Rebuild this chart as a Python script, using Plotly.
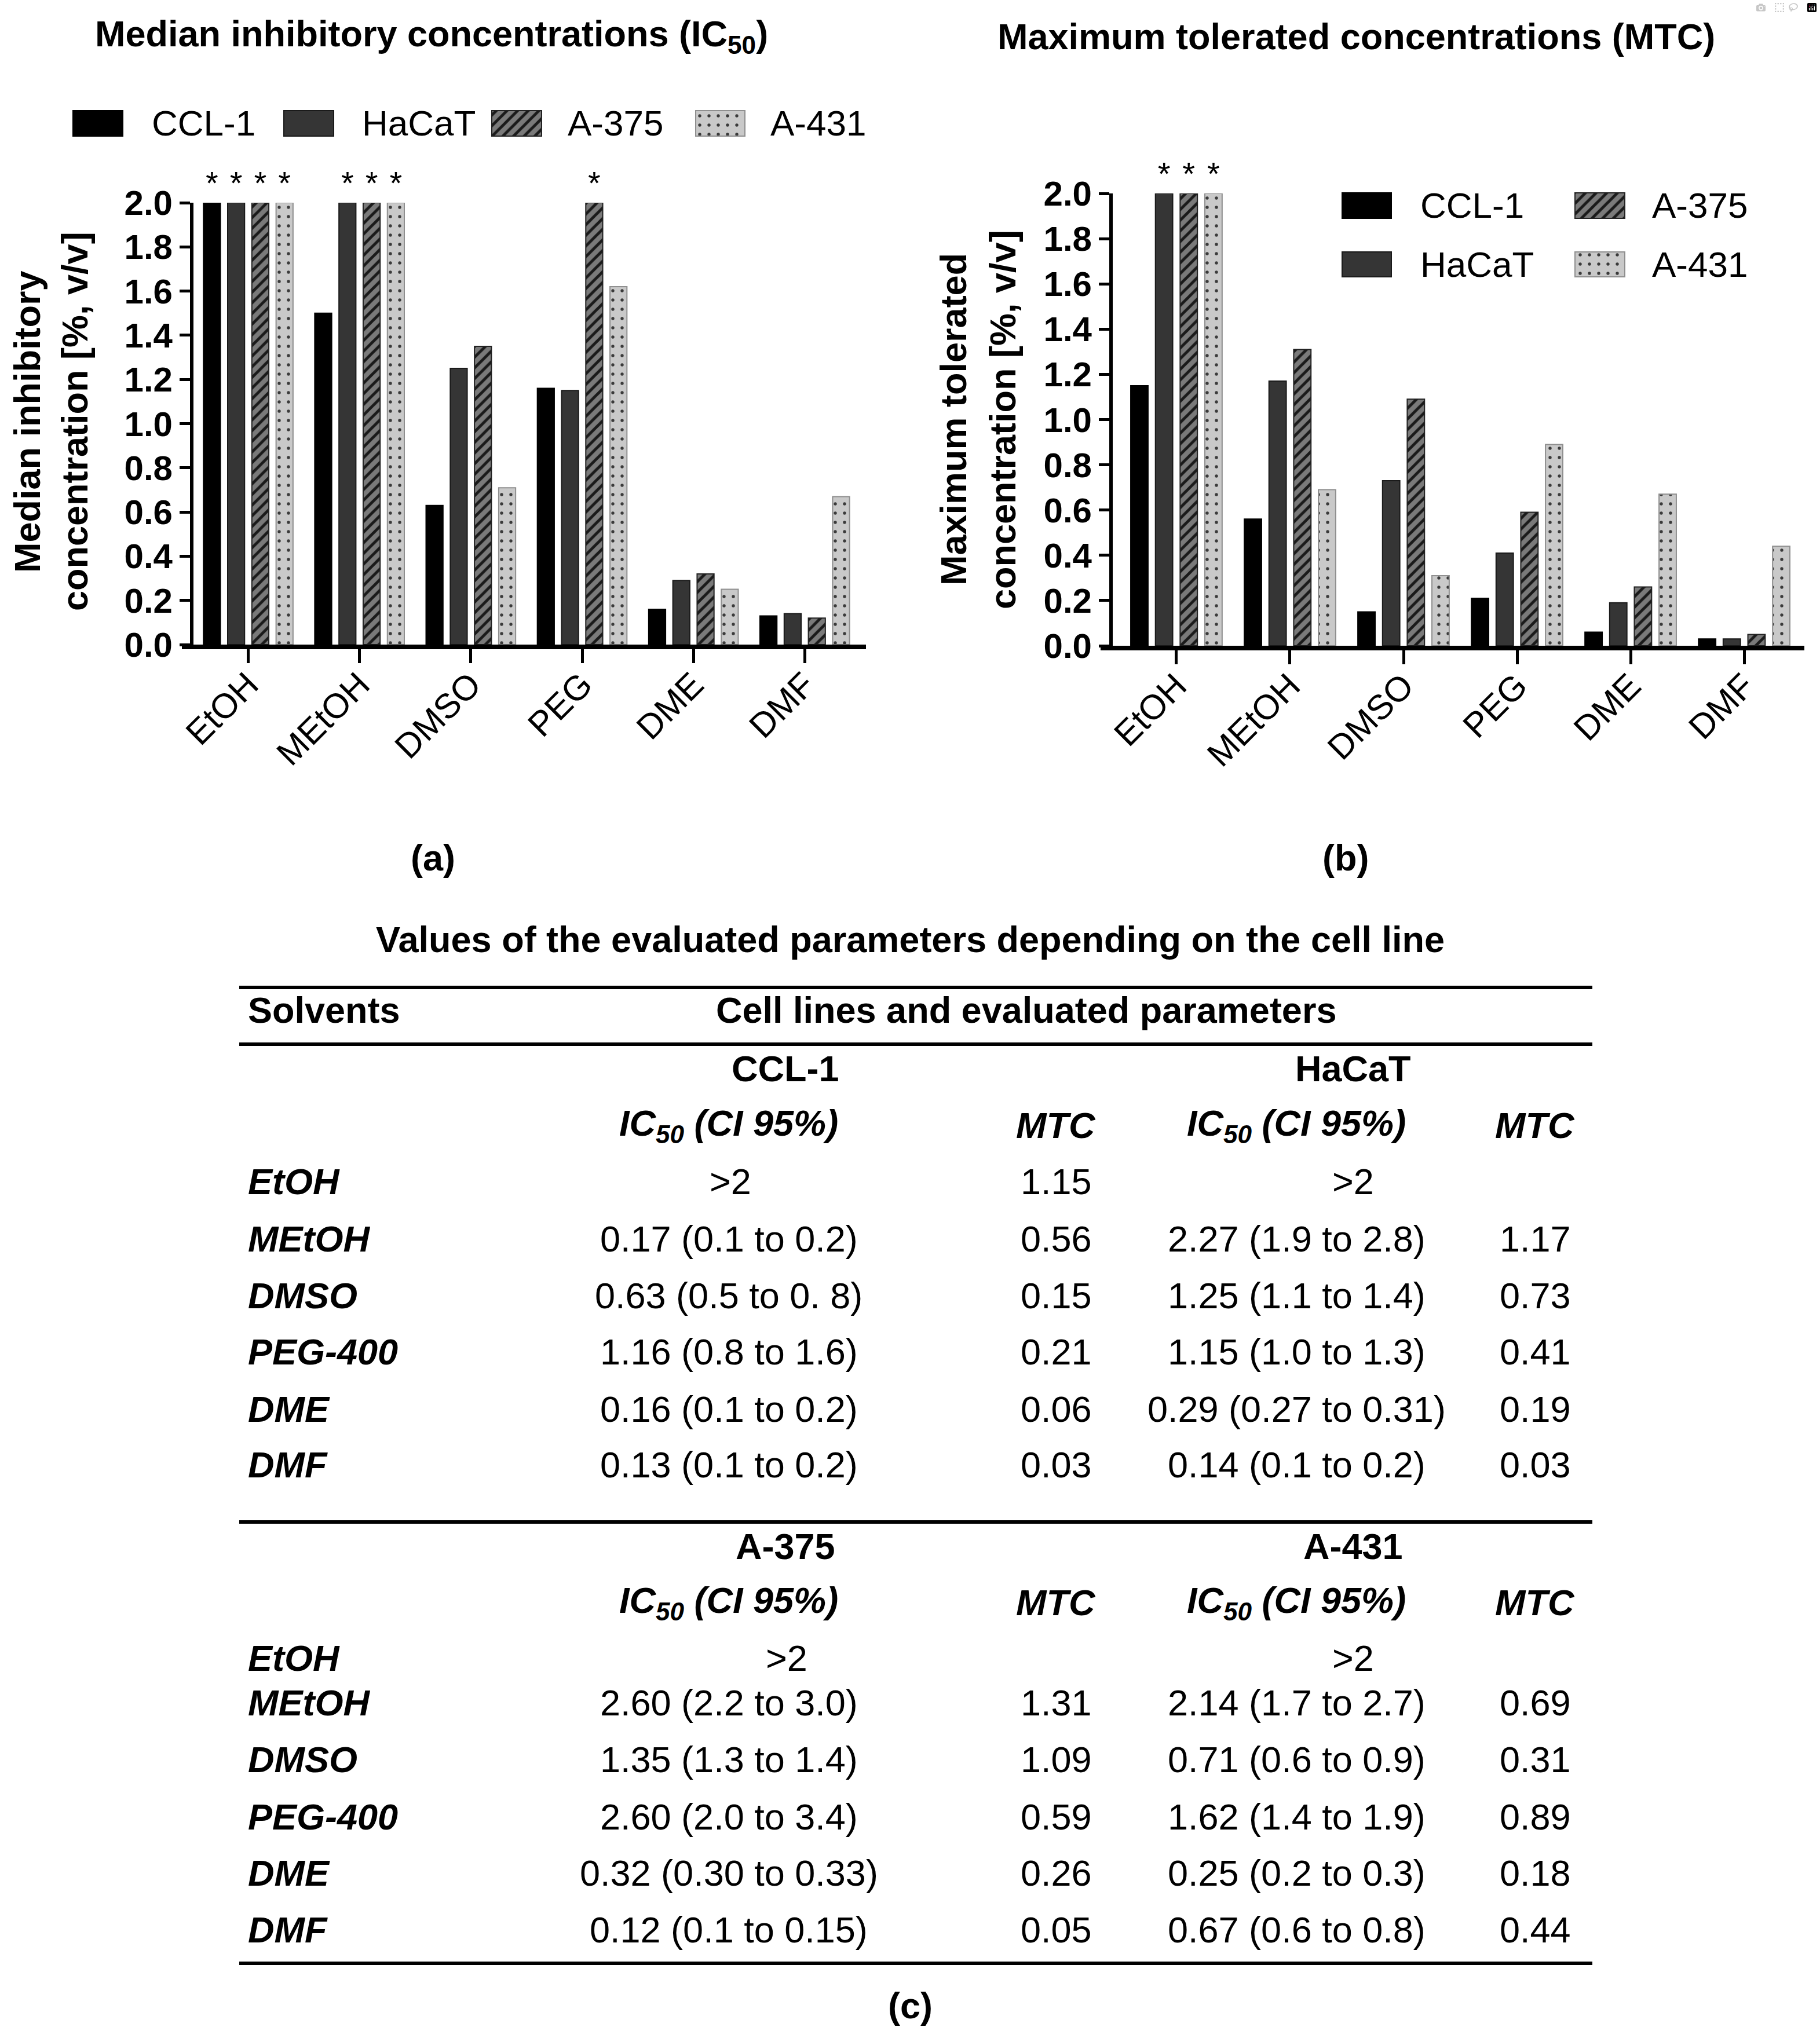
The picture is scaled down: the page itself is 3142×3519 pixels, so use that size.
import plotly.graph_objects as go

W, H = 3142, 3519

# ---------------- data ----------------
solvents = ["EtOH", "MEtOH", "DMSO", "PEG", "DME", "DMF"]
cell_lines = ["CCL-1", "HaCaT", "A-375", "A-431"]

ic50_ccl1 = [2.0, 1.5, 0.63, 1.16, 0.16, 0.13]
ic50_hacat = [2.0, 2.0, 1.25, 1.15, 0.29, 0.14]
ic50_a375 = [2.0, 2.0, 1.35, 2.0, 0.32, 0.12]
ic50_a431 = [2.0, 2.0, 0.71, 1.62, 0.25, 0.67]

mtc_ccl1 = [1.15, 0.56, 0.15, 0.21, 0.06, 0.03]
mtc_hacat = [2.0, 1.17, 0.73, 0.41, 0.19, 0.03]
mtc_a375 = [2.0, 1.31, 1.09, 0.59, 0.26, 0.05]
mtc_a431 = [2.0, 0.69, 0.31, 0.89, 0.67, 0.44]

# asterisks: value above the highest tested concentration
ic50_mark_ccl1 = ["*", None, None, None, None, None]
ic50_mark_hacat = ["*", "*", None, None, None, None]
ic50_mark_a375 = ["*", "*", None, "*", None, None]
ic50_mark_a431 = ["*", "*", None, None, None, None]

mtc_mark_ccl1 = [None, None, None, None, None, None]
mtc_mark_hacat = ["*", None, None, None, None, None]
mtc_mark_a375 = ["*", None, None, None, None, None]
mtc_mark_a431 = ["*", None, None, None, None, None]

y_ticks = [0.0, 0.2, 0.4, 0.6, 0.8, 1.0, 1.2, 1.4, 1.6, 1.8, 2.0]

table_solvents = ["EtOH", "MEtOH", "DMSO", "PEG-400", "DME", "DMF"]
tab_ccl1_ic50 = [">2", "0.17 (0.1 to 0.2)", "0.63 (0.5 to 0. 8)", "1.16 (0.8 to 1.6)",
                 "0.16 (0.1 to 0.2)", "0.13 (0.1 to 0.2)"]
tab_ccl1_mtc = ["1.15", "0.56", "0.15", "0.21", "0.06", "0.03"]
tab_hacat_ic50 = [">2", "2.27 (1.9 to 2.8)", "1.25 (1.1 to 1.4)", "1.15 (1.0 to 1.3)",
                  "0.29 (0.27 to 0.31)", "0.14 (0.1 to 0.2)"]
tab_hacat_mtc = ["", "1.17", "0.73", "0.41", "0.19", "0.03"]
tab_a375_ic50 = [">2", "2.60 (2.2 to 3.0)", "1.35 (1.3 to 1.4)", "2.60 (2.0 to 3.4)",
                 "0.32 (0.30 to 0.33)", "0.12 (0.1 to 0.15)"]
tab_a375_mtc = ["", "1.31", "1.09", "0.59", "0.26", "0.05"]
tab_a431_ic50 = [">2", "2.14 (1.7 to 2.7)", "0.71 (0.6 to 0.9)", "1.62 (1.4 to 1.9)",
                 "0.25 (0.2 to 0.3)", "0.67 (0.6 to 0.8)"]
tab_a431_mtc = ["", "0.69", "0.31", "0.89", "0.18", "0.44"]

# ---------------- styling ----------------
FONT = "Liberation Sans"
styles = {
    "CCL-1": dict(color="#000000", line=dict(color="#000000", width=2)),
    "HaCaT": dict(color="#353535", line=dict(color="#1a1a1a", width=2)),
    "A-375": dict(color="#777777", line=dict(color="#222222", width=2),
                  pattern=dict(shape="/", fgcolor="#1a1a1a", bgcolor="#7a7a7a",
                               size=13, solidity=0.38, fillmode="replace")),
    "A-431": dict(color="#c8c8c8", line=dict(color="#8f8f8f", width=2),
                  pattern=dict(shape=".", fgcolor="#3a3a3a", bgcolor="#c9c9c9",
                               size=16, solidity=0.09, fillmode="replace")),
}


def px_x(v):
    return v / W


def px_y(v):
    return 1 - v / H


fig = go.Figure()

ic50_series = [ic50_ccl1, ic50_hacat, ic50_a375, ic50_a431]
ic50_marks = [ic50_mark_ccl1, ic50_mark_hacat, ic50_mark_a375, ic50_mark_a431]
mtc_series = [mtc_ccl1, mtc_hacat, mtc_a375, mtc_a431]
mtc_marks = [mtc_mark_ccl1, mtc_mark_hacat, mtc_mark_a375, mtc_mark_a431]

for (series, marks, xa, ya) in [(ic50_series, ic50_marks, "x", "y"),
                                (mtc_series, mtc_marks, "x2", "y2")]:
    for name, vals, mk in zip(cell_lines, series, marks):
        fig.add_trace(go.Bar(
            x=solvents, y=vals, name=name, text=mk,
            textposition="outside", cliponaxis=False, constraintext="none",
            textfont=dict(size=56, color="black", family=FONT),
            marker=styles[name], xaxis=xa, yaxis=ya, showlegend=False,
            hoverinfo="skip"))

# ---------------- custom legends (large swatches) ----------------
legend_a = [  # (name, swatch left, swatch right, top, bottom, text x)
    ("CCL-1", 126, 212, 191, 235, 260),
    ("HaCaT", 490, 576, 191, 235, 623),
    ("A-375", 849, 935, 191, 235, 978),
    ("A-431", 1201, 1286, 191, 235, 1328),
]
legend_b = [
    ("CCL-1", 2317, 2402, 333, 377, 2450),
    ("A-375", 2719, 2805, 333, 377, 2850),
    ("HaCaT", 2317, 2402, 435, 478, 2450),
    ("A-431", 2719, 2805, 435, 478, 2850),
]
annotations = []
for name, l, r, t, b, tx in legend_a + legend_b:
    fig.add_trace(go.Bar(
        x=[(l + r) / 2], y=[b - t], base=[t], width=[r - l],
        marker=styles[name], xaxis="x3", yaxis="y3", offsetgroup="swatch",
        showlegend=False, hoverinfo="skip"))
    annotations.append(dict(
        text=name, x=px_x(tx), y=px_y((t + b) / 2), xref="paper", yref="paper",
        xanchor="left", yanchor="middle", showarrow=False,
        font=dict(size=62, family=FONT, color="black")))

# ---------------- axes ----------------
xcommon = dict(type="category", showline=True, linewidth=8, linecolor="black",
               ticks="outside", ticklen=24, tickwidth=5, tickcolor="black",
               tickangle=-45, tickfont=dict(size=60, family=FONT, color="black"),
               ticklabelstandoff=-22,
               showgrid=False, zeroline=False, fixedrange=True, automargin=False)
ycommon = dict(range=[0, 2.0], tickvals=y_ticks, tickformat=".1f", showline=True,
               linewidth=6, linecolor="black", ticks="outside", ticklen=18,
               tickwidth=5, tickcolor="black",
               tickfont=dict(size=60, family=FONT, color="black", weight="bold"),
               showgrid=False, zeroline=False, fixedrange=True, automargin=False,
               anchor="free")

layout = dict(
    width=W, height=H,
    margin=dict(l=0, r=0, t=0, b=0, pad=0, autoexpand=False),
    paper_bgcolor="white", plot_bgcolor="rgba(0,0,0,0)",
    barmode="group", bargap=0.13, bargroupgap=0.3,
    font=dict(family=FONT, color="black"),
    xaxis=dict(xcommon, domain=[px_x(314), px_x(1495)], range=[-0.596, 5.55], anchor="y"),
    yaxis=dict(ycommon, domain=[px_y(1113), px_y(350)], position=px_x(331)),
    xaxis2=dict(xcommon, domain=[px_x(1900), px_x(3115)], range=[-0.668, 5.53], anchor="y2"),
    yaxis2=dict(ycommon, domain=[px_y(1115), px_y(334)], position=px_x(1918)),
    xaxis3=dict(domain=[0, 1], range=[0, W], visible=False, fixedrange=True,
                anchor="y3", automargin=False),
    yaxis3=dict(domain=[0, 1], range=[H, 0], visible=False, fixedrange=True,
                anchor="x3", automargin=False),
    showlegend=False,
)
fig.update_layout(**layout)


def ann(text, x, y, size=63, xanchor="center", angle=0, yanchor="middle"):
    annotations.append(dict(
        text=text, x=px_x(x), y=px_y(y), xref="paper", yref="paper",
        xanchor=xanchor, yanchor=yanchor, showarrow=False, textangle=angle,
        font=dict(size=size, family=FONT, color="black")))


# chart titles, axis titles, panel labels
ann("<b>Median inhibitory concentrations (IC<sub>50</sub>)</b>", 745, 63)
ann("<b>Maximum tolerated concentrations (MTC)</b>", 2341, 63)
ann("<b>Median inhibitory</b>", 47, 728, size=63, angle=-90)
ann("<b>concentration [%, v/v]</b>", 129, 728, size=63, angle=-90)
ann("<b>Maximum tolerated</b>", 1646, 724, size=63, angle=-90)
ann("<b>concentration [%, v/v]</b>", 1731, 724, size=63, angle=-90)
ann("<b>(a)</b>", 747, 1481)
ann("<b>(b)</b>", 2323, 1481)

# ---------------- table ----------------
ann("<b>Values of the evaluated parameters depending on the cell line</b>", 1571, 1622)
ann("<b>Solvents</b>", 426, 1744, xanchor="left")
ann("<b>Cell lines and evaluated parameters</b>", 1771, 1744)

shapes = []
for yl in [1705, 1803, 2628, 3390]:
    shapes.append(dict(type="line", xref="paper", yref="paper",
                       x0=px_x(413), x1=px_x(2749), y0=px_y(yl), y1=px_y(yl),
                       line=dict(color="black", width=6)))

COL_IC_L, COL_MTC_L, COL_IC_R, COL_MTC_R = 1258, 1823, 2238, 2650
HDR_L, HDR_R = 1356, 2336

blocks = [
    # (left line, right line, header y, subheader y, row ys, data cols, ">2" x positions)
    ("CCL-1", "HaCaT", 1845, 1943, [2040, 2139, 2237, 2334, 2433, 2529],
     (tab_ccl1_ic50, tab_ccl1_mtc, tab_hacat_ic50, tab_hacat_mtc), (1261, 2336)),
    ("A-375", "A-431", 2670, 2767, [2863, 2940, 3038, 3137, 3234, 3332],
     (tab_a375_ic50, tab_a375_mtc, tab_a431_ic50, tab_a431_mtc), (1358, 2336)),
]
for hl, hr, yh, ysub, rows, cols, gt_x in blocks:
    ann("<b>%s</b>" % hl, HDR_L, yh)
    ann("<b>%s</b>" % hr, HDR_R, yh)
    ann("<b><i>IC<sub>50</sub> (CI 95%)</i></b>", COL_IC_L, ysub)
    ann("<b><i>MTC</i></b>", COL_MTC_L, ysub)
    ann("<b><i>IC<sub>50</sub> (CI 95%)</i></b>", COL_IC_R, ysub)
    ann("<b><i>MTC</i></b>", COL_MTC_R, ysub)
    ic_l, mtc_l, ic_r, mtc_r = cols
    for i, yr in enumerate(rows):
        ann("<b><i>%s</i></b>" % table_solvents[i], 426, yr, xanchor="left")
        ann(ic_l[i], gt_x[0] if ic_l[i] == ">2" else COL_IC_L, yr)
        if mtc_l[i]:
            ann(mtc_l[i], COL_MTC_L, yr)
        ann(ic_r[i], gt_x[1] if ic_r[i] == ">2" else COL_IC_R, yr)
        if mtc_r[i]:
            ann(mtc_r[i], COL_MTC_R, yr)

ann("<b>(c)</b>", 1571, 3463)

fig.update_layout(annotations=annotations, shapes=shapes)

fig.write_html("out.html", post_script="document.body.style.margin='0';")
